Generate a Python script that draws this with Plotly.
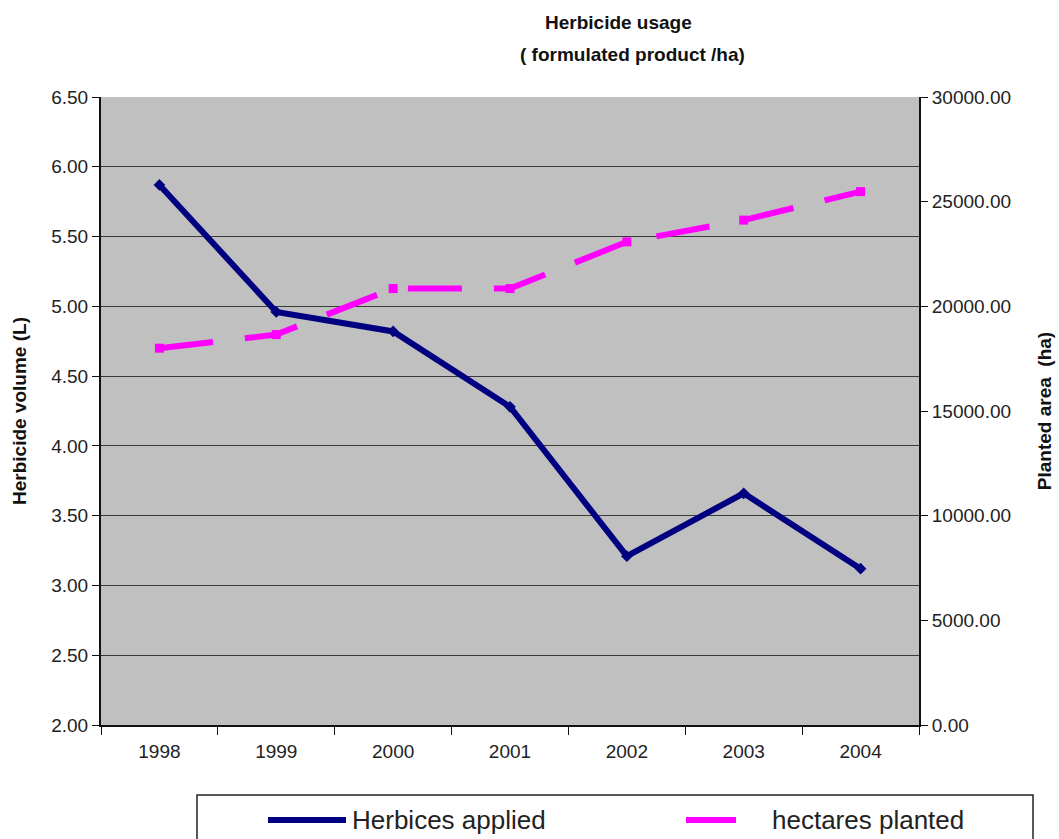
import plotly.graph_objects as go

years = ["1998", "1999", "2000", "2001", "2002", "2003", "2004"]
herbicide_volume = [5.87, 4.96, 4.82, 4.28, 3.21, 3.66, 3.12]
hectares_planted = [18000, 18650, 20850, 20850, 23080, 24120, 25480]

left_ticks = [2.0, 2.5, 3.0, 3.5, 4.0, 4.5, 5.0, 5.5, 6.0, 6.5]
right_ticks = [0, 5000, 10000, 15000, 20000, 25000, 30000]

series_names = ["Herbices applied", "hectares planted"]
NAVY, MAGENTA = "#000080", "#FF00FF"

W, H = 1059, 839
L, R, T, B = 101, 140, 97, 114
pw, ph = W - L - R, H - T - B

def px_x(px):
    return (px - L) / pw

def px_y(py):
    return (H - B - py) / ph

fig = go.Figure()

fig.add_trace(go.Scatter(
    x=years, y=herbicide_volume, name=series_names[0],
    mode="lines+markers",
    line=dict(color=NAVY, width=6),
    marker=dict(symbol="diamond", size=9, color=NAVY),
    yaxis="y",
))

fig.add_trace(go.Scatter(
    x=years, y=hectares_planted, name=series_names[1],
    mode="lines+markers",
    line=dict(color=MAGENTA, width=6, dash="54px,32px"),
    marker=dict(symbol="square", size=9, color=MAGENTA),
    yaxis="y2",
))

axis_font = dict(family="Arial, Liberation Sans, sans-serif", size=19, color="#222")

# legend box (runs off the bottom of the page) with line keys and labels
legend_shapes = [
    dict(type="rect", xref="paper", yref="paper",
         x0=px_x(197), x1=px_x(1033), y0=px_y(795), y1=px_y(860),
         line=dict(color="#222", width=1.5), fillcolor="rgba(0,0,0,0)"),
    dict(type="line", xref="paper", yref="paper",
         x0=px_x(268), x1=px_x(346), y0=px_y(820), y1=px_y(820),
         line=dict(color=NAVY, width=6)),
    dict(type="line", xref="paper", yref="paper",
         x0=px_x(686), x1=px_x(736), y0=px_y(820), y1=px_y(820),
         line=dict(color=MAGENTA, width=6)),
]
legend_markers = go.Scatter(
    x=[px_x(305), px_x(733)], y=[px_y(820), px_y(820)],
    xaxis="x2", yaxis="y3", mode="markers", hoverinfo="skip",
    marker=dict(symbol=["diamond", "square"], size=[9, 9], color=[NAVY, MAGENTA]),
    cliponaxis=False, showlegend=False,
)
fig.add_trace(legend_markers)

legend_labels = [
    dict(text=series_names[0], xref="paper", yref="paper",
         x=px_x(350), y=px_y(820), xanchor="left", yanchor="middle",
         showarrow=False, font=dict(size=26, color="#222")),
    dict(text=series_names[1], xref="paper", yref="paper",
         x=px_x(770), y=px_y(820), xanchor="left", yanchor="middle",
         showarrow=False, font=dict(size=26, color="#222")),
]

fig.update_layout(
    width=W, height=H,
    margin=dict(l=L, r=R, t=T, b=B, autoexpand=False),
    paper_bgcolor="white",
    plot_bgcolor="#C0C0C0",
    font=dict(family="Arial, Liberation Sans, sans-serif", color="#111"),
    showlegend=False,
    xaxis=dict(
        type="category", categoryorder="array", categoryarray=years,
        tickson="boundaries", ticks="outside", ticklen=8, tickcolor="#111",
        showgrid=False, showline=True, linecolor="#111", linewidth=2,
        tickfont=axis_font, range=[-0.5, 6.5], ticklabelstandoff=8,
    ),
    yaxis=dict(
        range=[2.0, 6.5], tickvals=left_ticks, tickformat=".2f",
        ticks="outside", ticklen=7, tickcolor="#111",
        showgrid=True, gridcolor="#3a3a3a", gridwidth=1,
        showline=True, linecolor="#111", linewidth=2,
        tickfont=axis_font, zeroline=False,
        title=dict(text="<b>Herbicide volume (L)</b>",
                   font=dict(size=19, color="#111"), standoff=20),
    ),
    yaxis2=dict(
        range=[0, 30000], tickvals=right_ticks, tickformat=".2f",
        overlaying="y", side="right",
        ticks="outside", ticklen=7, tickcolor="#111",
        showgrid=False, showline=True, linecolor="#111", linewidth=2,
        tickfont=axis_font, zeroline=False,
        title=dict(text="<b>Planted area  (ha)</b>",
                   font=dict(size=19, color="#111"), standoff=28),
    ),
    xaxis2=dict(range=[0, 1], overlaying="x", visible=False, fixedrange=True),
    yaxis3=dict(range=[0, 1], overlaying="y", visible=False, fixedrange=True),
    annotations=[
        dict(text="<b>Herbicide usage</b>", xref="paper", yref="paper",
             x=px_x(618), y=px_y(22), yanchor="middle", showarrow=False,
             font=dict(size=19, color="#111")),
        dict(text="<b>( formulated product /ha)</b>", xref="paper", yref="paper",
             x=px_x(632), y=px_y(55), yanchor="middle", showarrow=False,
             font=dict(size=19, color="#111")),
    ] + legend_labels,
    shapes=legend_shapes,
)

fig.write_html("out.html")
